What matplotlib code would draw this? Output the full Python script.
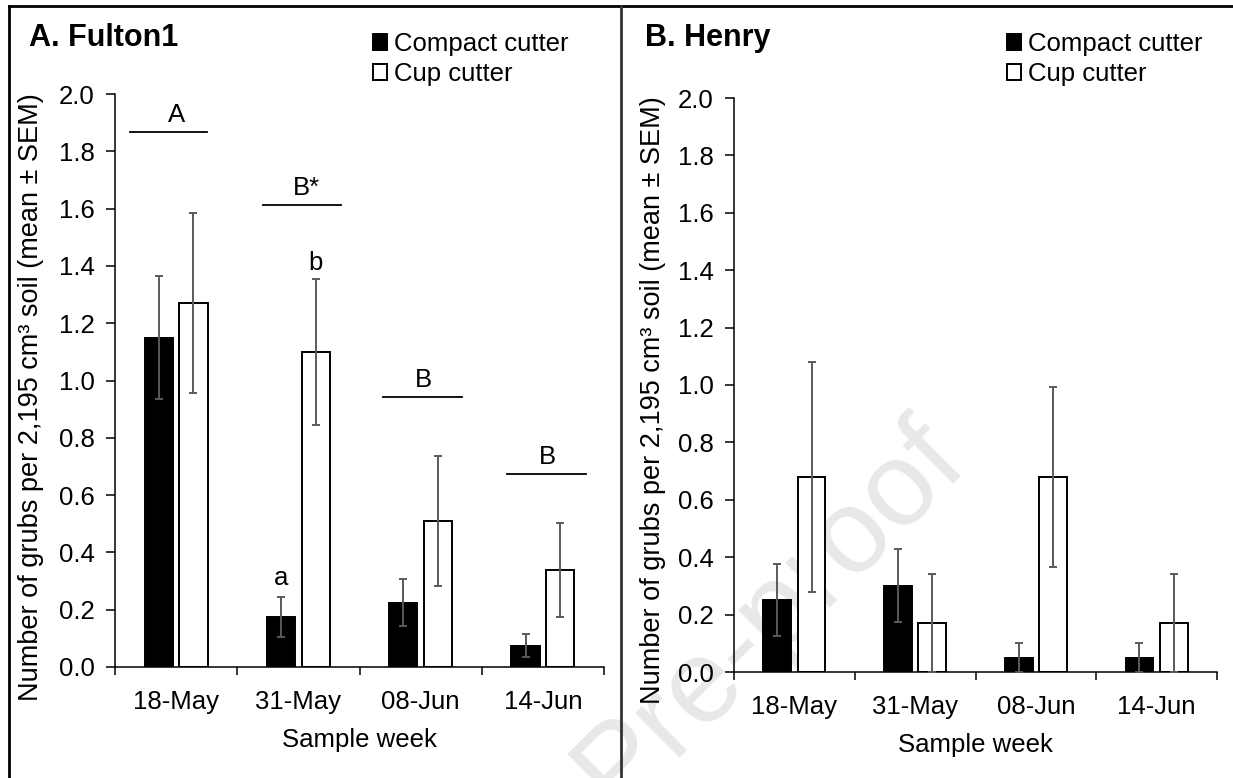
"""
Grub counts per soil core: compact cutter vs cup cutter, two sites.
"""

import matplotlib.pyplot as plt
from matplotlib.lines import Line2D
import numpy as np

plt.rcParams["font.family"] = ["Liberation Sans", "DejaVu Sans"]

weeks = ["18-May", "31-May", "08-Jun", "14-Jun"]

# A. Fulton1
fulton_compact = [1.15, 0.175, 0.225, 0.075]
fulton_compact_sem = [0.215, 0.07, 0.083, 0.04]
fulton_cup = [1.27, 1.10, 0.51, 0.34]
fulton_cup_sem = [0.315, 0.255, 0.228, 0.164]

# B. Henry
henry_compact = [0.25, 0.30, 0.05, 0.05]
henry_compact_sem = [0.125, 0.127, 0.05, 0.05]
henry_cup = [0.68, 0.17, 0.68, 0.17]
henry_cup_sem = [0.40, 0.17, 0.313, 0.17]

# Fulton1 letter groups (week-level) and within-week letters
group_letters = ["A", "B*", "B", "B"]
group_line_y = [1.867, 1.612, 0.942, 0.673]
pair_letters = {1: ("a", "b")}

W, H = 1233, 778
fig = plt.figure(figsize=(W / 100, H / 100), dpi=100)

FS = 18.5
ERR_COLOR = "#5a5a5a"
OFF, BW = 0.142, 0.23


def px(x, y):
    """pixel (from top-left) -> figure fraction"""
    return x / W, 1 - y / H


def draw_panel(ax, compact, compact_sem, cup, cup_sem):
    x = np.arange(len(weeks))
    ax.set_facecolor("none")
    ax.bar(x - OFF, compact, BW, color="black", edgecolor="black", lw=1.4,
           label="Compact cutter", zorder=2)
    ax.bar(x + OFF, cup, BW, color="white", edgecolor="black", lw=1.4,
           label="Cup cutter", zorder=2)
    ax.errorbar(x - OFF, compact, yerr=compact_sem, fmt="none", ecolor=ERR_COLOR,
                elinewidth=1.4, capsize=3.1, capthick=1.4, zorder=3)
    ax.errorbar(x + OFF, cup, yerr=cup_sem, fmt="none", ecolor=ERR_COLOR,
                elinewidth=1.4, capsize=3.1, capthick=1.4, zorder=3)

    ax.set_xlim(-0.5, len(weeks) - 0.5)
    ax.set_ylim(0, 2.0)
    ax.set_yticks(np.arange(0, 2.01, 0.2))
    ax.set_yticklabels([f"{v:.1f}" for v in np.arange(0, 2.01, 0.2)])
    ax.set_xticks(x)
    ax.set_xticklabels(weeks)
    ax.set_xticks(np.arange(-0.5, len(weeks), 1.0), minor=True)
    ax.tick_params(axis="x", which="major", length=0, labelsize=FS, pad=16.5)
    ax.tick_params(axis="x", which="minor", length=6, width=1.1, direction="out")
    ax.tick_params(axis="y", length=6.5, width=1.1, labelsize=FS, pad=8)
    for s in ["top", "right"]:
        ax.spines[s].set_visible(False)
    for s in ["left", "bottom"]:
        ax.spines[s].set_linewidth(1.1)

    ax.set_xlabel("Sample week", fontsize=FS, labelpad=10)
    ax.set_ylabel("Number of grubs per 2,195 cm³ soil (mean ± SEM)",
                  fontsize=19.5, va="center")


# ---- axes
ax1 = fig.add_axes([115 / W, 1 - 667 / H, 489 / W, 573 / H])
ax2 = fig.add_axes([734 / W, 1 - 672 / H, 483 / W, 574 / H])

draw_panel(ax1, fulton_compact, fulton_compact_sem, fulton_cup, fulton_cup_sem)
draw_panel(ax2, henry_compact, henry_compact_sem, henry_cup, henry_cup_sem)

# y-label placement (centre of rotated text)
ax1.yaxis.set_label_coords((31 - 115) / 489, (667 - 397) / 573)
ax2.yaxis.set_label_coords((653 - 734) / 483, (672 - 400) / 574)

# ---- significance letters on Fulton1
line_spans = [(-0.38, 0.25), (-0.29, 0.35), (-0.31, 0.34), (-0.29, 0.35)]
letter_dx = [0.0, 0.07, 0.02, 0.04]
for i, (lab, ly) in enumerate(zip(group_letters, group_line_y)):
    x0, x1 = line_spans[i]
    ax1.plot([i + x0, i + x1], [ly, ly], color="black", lw=1.3, clip_on=False)
    ax1.text(i + letter_dx[i], ly + 0.037, lab, ha="center", va="baseline",
             fontsize=FS, clip_on=False)
for i, (la, lb) in pair_letters.items():
    ax1.text(i - OFF, fulton_compact[i] + fulton_compact_sem[i] + 0.04, la,
             ha="center", va="baseline", fontsize=FS)
    ax1.text(i + OFF, fulton_cup[i] + fulton_cup_sem[i] + 0.03, lb,
             ha="center", va="baseline", fontsize=FS)

# ---- legends
for ax, lx in [(ax1, 373), (ax2, 1007)]:
    ax.legend(loc="upper left", bbox_to_anchor=px(lx, 32),
              bbox_transform=fig.transFigure, frameon=False, fontsize=FS,
              handlelength=0.55, handleheight=0.55, handletextpad=0.25,
              labelspacing=0.24, borderpad=0, borderaxespad=0)

# ---- panel titles
fig.text(*px(29, 38), "A. Fulton1", fontsize=22, fontweight="bold", va="center")
fig.text(*px(645, 38), "B. Henry", fontsize=22, fontweight="bold", va="center")

# ---- panel frame
frame_kw = dict(color="black", lw=2.0, transform=fig.transFigure)
fig.add_artist(Line2D([9 / W, 1], [1 - 6 / H, 1 - 6 / H], **frame_kw))
fig.add_artist(Line2D([9 / W, 9 / W], [0, 1 - 6 / H], **frame_kw))
fig.add_artist(Line2D([621 / W, 621 / W], [0, 1 - 6 / H], color="#333333",
                      lw=2.0, transform=fig.transFigure))

# ---- faint watermark (runs off the bottom edge, as in the source)
fig.text(*px(770, 615), "Pre-proof", fontsize=86, color="#e8e8e8",
         rotation=45, ha="center", va="center", zorder=-1)

fig.savefig("out.png", dpi=100)
